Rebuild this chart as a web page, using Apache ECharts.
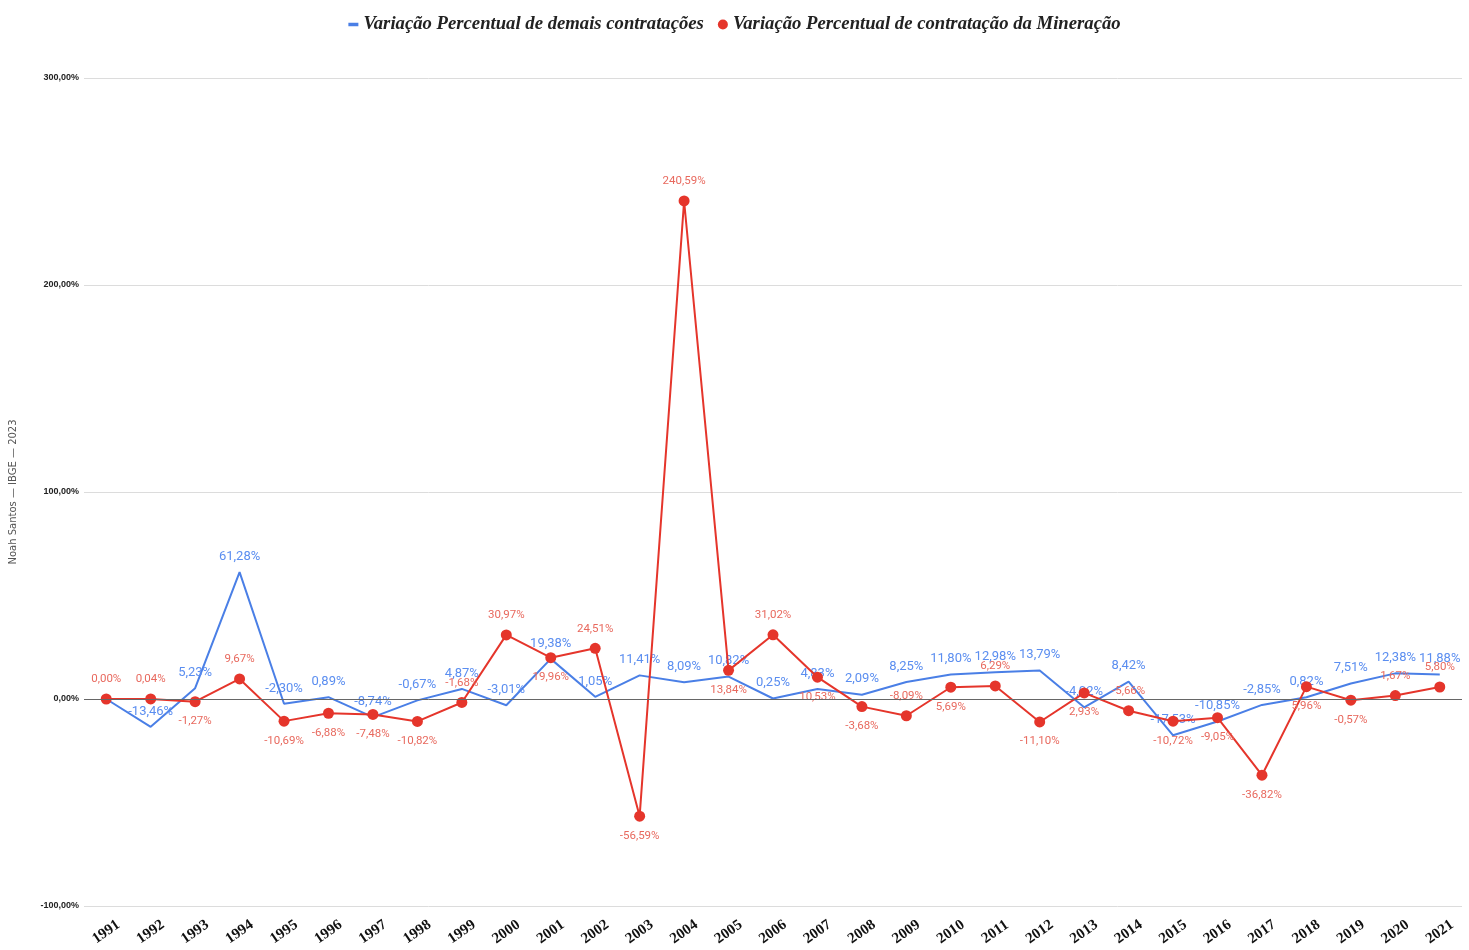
<!DOCTYPE html>
<html>
<head>
<meta charset="utf-8">
<script src="https://cdn.jsdelivr.net/npm/echarts@6/dist/echarts.min.js"></script>
<style>
  html, body { margin: 0; padding: 0; background: #ffffff; }
  #chart { width: 1469px; height: 950px; }
</style>
</head>
<body>
<div id="chart"></div>
<script>
// Anos da série
const years = ['1991','1992','1993','1994','1995','1996','1997','1998','1999','2000',
  '2001','2002','2003','2004','2005','2006','2007','2008','2009','2010',
  '2011','2012','2013','2014','2015','2016','2017','2018','2019','2020','2021'];

// Variação percentual (%) das demais contratações
const demais = [0, -13.46, 5.23, 61.28, -2.30, 0.89, -8.74, -0.67, 4.87, -3.01,
  19.38, 1.05, 11.41, 8.09, 10.82, 0.25, 4.83, 2.09, 8.25, 11.80,
  12.98, 13.79, -4.02, 8.42, -17.53, -10.85, -2.85, 0.82, 7.51, 12.38, 11.88];

// Variação percentual (%) das contratações da mineração
const mineracao = [0.00, 0.04, -1.27, 9.67, -10.69, -6.88, -7.48, -10.82, -1.68, 30.97,
  19.96, 24.51, -56.59, 240.59, 13.84, 31.02, 10.53, -3.68, -8.09, 5.69,
  6.29, -11.10, 2.93, -5.66, -10.72, -9.05, -36.82, 5.96, -0.57, 1.67, 5.80];

// Posição dos rótulos da mineração (acima / abaixo do ponto)
const posMineracao = ['top','top','bottom','top','bottom','bottom','bottom','bottom','top','top',
  'bottom','top','bottom','top','bottom','top','bottom','bottom','top','bottom',
  'top','bottom','bottom','top','bottom','bottom','bottom','bottom','bottom','top','top'];

// Eixo Y
const yMin = -100, yMax = 300, yStep = 100;

const fmt = v => v.toFixed(2).replace('.', ',') + '%';

const blue = '#4a7fe6';
const red = '#e5352b';

const chart = echarts.init(document.getElementById('chart'));

chart.setOption({
  animation: false,
  backgroundColor: '#ffffff',
  legend: {
    top: 10,
    left: 'center',
    itemGap: 14,
    itemWidth: 10,
    itemHeight: 10,
    textStyle: {
      fontFamily: 'Liberation Serif',
      fontStyle: 'italic',
      fontWeight: 'bold',
      fontSize: 18.7,
      color: '#222'
    },
    data: [
      { name: 'Variação Percentual de demais contratações', icon: 'path://M0,0 L10,0 L10,3.5 L0,3.5 Z' },
      { name: 'Variação Percentual de contratação da Mineração', icon: 'circle' }
    ]
  },
  grid: { left: 83, right: 7, top: 78, bottom: 44 },
  xAxis: {
    type: 'category',
    data: years,
    boundaryGap: true,
    axisLine: { show: false, onZero: false },
    axisTick: { show: false },
    axisLabel: {
      rotate: 35,
      margin: 26,
      align: 'center',
      verticalAlign: 'middle',
      fontFamily: 'Liberation Serif',
      fontWeight: 'bold',
      fontSize: 15,
      color: '#111'
    }
  },
  yAxis: {
    type: 'value',
    min: yMin,
    max: yMax,
    interval: yStep,
    name: 'Noah Santos — IBGE — 2023',
    nameLocation: 'middle',
    nameRotate: 90,
    nameGap: 66,
    nameTextStyle: { fontFamily: 'DejaVu Sans', fontSize: 10, color: '#555' },
    axisLine: { show: false },
    axisTick: { show: false },
    axisLabel: {
      formatter: v => fmt(v),
      margin: 5,
      fontFamily: 'Liberation Sans',
      fontWeight: 'bold',
      fontSize: 9,
      color: '#222'
    },
    splitLine: { lineStyle: { color: '#dcdcdc', width: 1 } }
  },
  series: [
    {
      name: 'Variação Percentual de demais contratações',
      type: 'line',
      data: demais.map((v, i) => i === 0 ? { value: v, label: { show: false } } : v),
      showSymbol: true,
      symbol: 'circle',
      symbolSize: 0,
      itemStyle: { color: blue },
      lineStyle: { color: blue, width: 2 },
      z: 2,
      label: {
        show: true,
        position: 'top',
        distance: 9,
        formatter: p => fmt(p.value),
        fontFamily: 'Roboto',
        fontSize: 13,
        color: '#5b8ef0'
      },
      markLine: {
        silent: true,
        symbol: 'none',
        label: { show: false },
        lineStyle: { color: '#666', width: 1, type: 'solid' },
        data: [{ yAxis: 0 }]
      }
    },
    {
      name: 'Variação Percentual de contratação da Mineração',
      type: 'line',
      data: mineracao.map((v, i) => ({ value: v, label: { position: posMineracao[i] } })),
      symbol: 'circle',
      symbolSize: 11,
      itemStyle: { color: red },
      lineStyle: { color: red, width: 2 },
      z: 3,
      label: {
        show: true,
        distance: 8,
        formatter: p => fmt(p.value),
        fontFamily: 'Roboto',
        fontSize: 11.5,
        color: '#e8695e'
      }
    }
  ]
});
</script>
</body>
</html>
